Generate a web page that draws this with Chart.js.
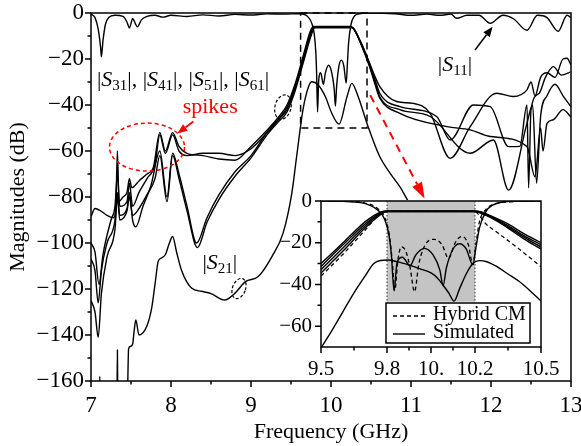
<!DOCTYPE html>
<html>
<head>
<meta charset="utf-8">
<script src="https://cdn.jsdelivr.net/npm/chart.js@4.4.1/dist/chart.umd.min.js"></script>
<style>
html, body { margin: 0; padding: 0; background: #fff; }
#wrap { position: relative; width: 581px; height: 446px; }
#main { position: absolute; left: 0; top: 0; }
#inset { position: absolute; left: 258px; top: 190px; }
</style>
</head>
<body>
<div id="wrap">
	<canvas id="main" width="581" height="446"></canvas>
	<canvas id="inset" width="302" height="195"></canvas>
</div>
<script>
// ---------- main plot data (frequency in GHz, magnitude in dB) ----------
var s11F = [7.0,7.05,7.09,7.12,7.13,7.15,7.18,7.22,7.3,7.4,7.45,7.48,7.52,7.58,7.63,7.7,7.8,7.9,8.0,8.2,8.4,8.6,8.8,9.0,9.2,9.4,9.6,9.68,9.72,9.76,9.79,9.81,9.82,9.832,9.845,9.87,9.905,9.93,9.97,10.01,10.04,10.055,10.07,10.1,10.13,10.16,10.19,10.205,10.22,10.25,10.28,10.32,10.5,10.8,11.0,11.2,11.36,11.5,11.57,11.7,11.85,11.99,12.15,12.28,12.45,12.58,12.7,12.84,12.95,13.0];
var s11Db = [-0.5,-2,-7,-15,-19,-12,-5,-2,-1,-1.5,-4,-6.5,-2.5,-6,-3,-1.5,-1,-1.8,-1,-1.5,-0.8,-1.3,-0.6,-0.9,-0.4,-0.5,-0.3,-0.8,-2,-4.5,-9,-17,-26,-43,-30,-26,-31,-26,-22.7,-26,-33,-40.5,-32,-23,-20.5,-23,-30.5,-22,-13,-5,-2,-0.6,0,-0.3,-1,-0.5,-1,-0.5,-2.3,-1,-1,-4.5,-1,-2.5,-7.5,-1,-2,-8,-1,-2];

var s21F = [7.105,7.11,7.115,7.2,7.325,7.33,7.335,7.4,7.455,7.47,7.49,7.52,7.54,7.56,7.6,7.7,7.76,7.8,7.84,7.88,7.93,7.98,8.02,8.07,8.13,8.26,8.38,8.5,8.67,8.8,8.93,9.09,9.26,9.4,9.51,9.57,9.65,9.72,9.76,9.84,9.93,10.01,10.1,10.2,10.26,10.34,10.45,10.61,10.74,10.86,11.0,11.3];
var s21Db = [-170,-158,-170,null,-170,-146.5,-170,null,-170,-146,-145,-144,-138,-133.5,-140,-136,-128,-118,-108,-106.5,-105,-100,-97.2,-104,-111.7,-119.7,-121,-122,-124.8,-121.8,-116.8,-114.6,-106,-95.8,-78.4,-62.5,-42,-32,-29.9,-31.3,-36.4,-43.6,-48.3,-36.4,-30.6,-36.4,-48,-62.5,-69.7,-75.5,-84,-100];

var s31F = [7.0,7.05,7.12,7.2,7.28,7.31,7.33,7.35,7.4,7.45,7.48,7.51,7.6,7.7,7.78,7.86,7.93,8.02,8.1,8.2,8.4,8.6,8.8,9.0,9.2,9.35,9.45,9.55,9.65,9.74,9.78,10.24,10.35,10.45,10.53,10.61,10.82,11.03,11.24,11.49,11.74,12.07,12.28,12.45,12.5,12.55,12.62,12.7,12.8,12.9,12.95,13.0];
var s31Db = [-88.5,-85,-86,-88,-89,-85,-60,-82,-80,-78,-72,-76,-73,-70,-67,-52,-60,-52,-58,-61,-62,-63.5,-64,-58,-51,-45,-40,-31,-19,-8,-5.8,-5.8,-11,-19,-26,-32,-38.5,-39.3,-43.6,-63.2,-49.4,-34.9,-36.3,-33.4,-30,-36,-28,-26,-28,-20,-19.7,-22.6];

var s41F = [7.0,7.05,7.1,7.15,7.25,7.3,7.33,7.36,7.45,7.48,7.52,7.6,7.7,7.8,7.86,7.93,8.02,8.1,8.2,8.4,8.6,8.8,9.0,9.2,9.35,9.45,9.55,9.65,9.745,9.785,10.25,10.36,10.46,10.54,10.61,10.86,11.32,11.49,11.78,11.99,12.22,12.36,12.45,12.47,12.5,12.6,12.68,12.78,12.88,13.0];
var s41Db = [-100,-104,-118,-105,-90,-84,-70,-84,-82,-74,-84,-78,-72,-66,-53,-61,-53,-60,-62,-61,-61,-62,-59,-52,-46,-41,-32,-20,-8.5,-6,-6,-12,-20,-28,-34.9,-40.7,-45,-55.2,-40,-40.7,-58.1,-58,-40,-76,-42,-35,-28,-23.3,-27,-25.6];

var s51F = [7.0,7.05,7.09,7.13,7.2,7.3,7.33,7.36,7.45,7.48,7.52,7.56,7.65,7.75,7.86,7.95,8.02,8.1,8.2,8.32,8.45,8.6,8.8,9.0,9.2,9.35,9.45,9.55,9.65,9.75,9.79,10.26,10.37,10.47,10.55,10.61,10.86,11.24,11.74,12.03,12.22,12.45,12.52,12.57,12.62,12.7,12.8,12.9,13.0];
var s51Db = [-107,-112,-126,-112,-100,-90,-78,-88,-85,-78,-90,-93,-84,-75,-60,-80,-61,-70,-84,-100,-89,-79,-69,-62,-52,-46,-42,-33,-21,-9,-6.2,-6.2,-13,-22,-30,-36.4,-42,-45,-61,-55.2,-77,-47.9,-40,-74,-45,-36,-31,-36,-40.8];

var s61F = [7.0,7.05,7.09,7.13,7.2,7.3,7.33,7.36,7.45,7.48,7.52,7.6,7.7,7.8,7.86,7.95,8.02,8.1,8.2,8.33,8.45,8.6,8.8,9.0,9.2,9.35,9.45,9.55,9.65,9.755,9.795,10.27,10.38,10.48,10.55,10.61,10.86,11.45,11.74,11.99,12.45,12.55,12.62,12.65,12.7,12.78,12.9,13.0];
var s61Db = [-125,-130,-141,-122,-106,-94,-80,-90,-86,-80,-88,-85,-79,-72,-62,-82,-62,-72,-86,-102,-91,-81,-71,-63,-53,-47,-43,-34,-22,-9.5,-6.4,-6.4,-14,-23,-31,-37,-43.6,-49.4,-50.8,-53.7,-58.1,-71.2,-50,-60,-48,-46.4,-42,-45.2];

var mainXTicks = [7, 8, 9, 10, 11, 12, 13];
var mainXMinor = [7.5, 8.5, 9.5, 10.5, 11.5, 12.5];
var mainYTicks = [0, -20, -40, -60, -80, -100, -120, -140, -160];
var mainYMinor = [-10, -30, -50, -70, -90, -110, -130, -150];

// ---------- inset data ----------
var inS11SimF = [9.5,9.6,9.68,9.72,9.76,9.79,9.81,9.82,9.832,9.845,9.87,9.905,9.93,9.97,10.01,10.04,10.055,10.07,10.1,10.13,10.16,10.19,10.205,10.22,10.25,10.28,10.32,10.4,10.5];
var inS11SimDb = [0,-0.2,-0.8,-2,-4.5,-9,-17,-26,-43,-30,-27,-31,-26,-22.7,-26,-33,-40.5,-32,-23,-20.5,-23,-30.5,-22,-13,-5,-2,-0.6,-0.1,0];
var inS11CmF = [9.5,9.65,9.7,9.75,9.79,9.81,9.825,9.835,9.85,9.865,9.885,9.905,9.925,9.945,9.98,10.015,10.05,10.08,10.11,10.14,10.17,10.19,10.205,10.22,10.25,10.29,10.35,10.5];
var inS11CmDb = [0,-0.3,-1,-3,-8,-16,-30,-43,-28,-22,-24,-32,-43.5,-30,-20,-18.4,-21,-27.5,-20,-17,-21,-30.5,-20,-10,-4,-1.5,-0.4,0];

var inS31SimF = [9.5,9.6,9.7,9.74,9.77,9.8,10.2,10.23,10.27,10.35,10.42,10.5];
var inS31SimDb = [-30,-20,-10,-7,-5.3,-4.8,-4.8,-5.3,-7,-11,-15.5,-20];
var inS41SimF = [9.5,9.6,9.7,9.745,9.775,9.8,10.2,10.23,10.27,10.35,10.42,10.5];
var inS41SimDb = [-31.5,-21,-11,-7.3,-5.4,-4.9,-4.9,-5.4,-7.3,-11.8,-16.5,-21];
var inS51SimF = [9.5,9.6,9.7,9.75,9.78,9.8,10.2,10.225,10.27,10.35,10.42,10.5];
var inS51SimDb = [-33,-22.5,-12,-7.5,-5.5,-5,-5,-5.5,-7.6,-12.4,-17.2,-22];
var inS61SimF = [9.5,9.6,9.7,9.755,9.785,9.805,10.195,10.22,10.27,10.35,10.42,10.5];
var inS61SimDb = [-34.5,-24,-13,-7.8,-5.6,-5.1,-5.1,-5.6,-7.9,-13,-18,-23];
var inS31CmF = [9.5,9.6,9.7,9.75,9.78,9.8,10.2,10.22,10.25,10.3,10.4,10.5];
var inS31CmDb = [-36,-25.5,-14,-8,-5.5,-5,-5,-7,-11,-15,-23,-31.5];

var inS21SimF = [9.5,9.55,9.6,9.65,9.7,9.74,9.77,9.8,9.85,9.9,9.95,10.0,10.03,10.056,10.08,10.105,10.13,10.16,10.19,10.22,10.25,10.3,10.35,10.4,10.45,10.5];
var inS21SimDb = [-70.5,-62,-53,-44,-36,-30,-28.5,-28.3,-29.2,-30.7,-32.5,-34.5,-37,-40.5,-44,-48,-42,-35,-30,-28.6,-29,-31.5,-35,-38.5,-43,-48];

var insetXTicks = [9.5, 9.8, 10, 10.2, 10.5];
var insetXTickLabels = ['9.5', '9.8', '10.', '10.2', '10.5'];
var insetXMinor = [9.65, 9.9, 10.1, 10.35];
var insetYTicks = [0, -20, -40, -60];
var insetYMinor = [-10, -30, -50];
var passBand = [9.8, 10.2];      // shaded band of the inset
var passBandFloor = -48.3;

var SERIF = "'Liberation Serif', 'DejaVu Serif', serif";
Chart.defaults.font.family = SERIF;
Chart.defaults.color = '#000';

function toPoints(xs, ys) {
	return xs.map(function (x, i) { return {x: x, y: ys[i]}; });
}

function curve(xs, ys, dash, width) {
	return {
		data: toPoints(xs, ys),
		borderColor: '#000',
		borderWidth: width || 1.4,
		borderDash: dash || [],
		pointRadius: 0,
		fill: false,
		spanGaps: false,
		cubicInterpolationMode: 'monotone'
	};
}

function serifFont(size) {
	return {family: SERIF, size: size};
}

// tick label with a real minus sign
function minusLabel(v) {
	return String(v).replace('-', '\u2212');
}

// keep the plot box exactly where the layout padding puts it
function noOverhang(s) {
	s.paddingLeft = 0; s.paddingRight = 0; s.paddingTop = 0; s.paddingBottom = 0;
}

// Frame + outward tick marks (major long, minor short)
var frameTicks = {
	id: 'frameTicks',
	afterDraw: function (chart, args, o) {
		var ctx = chart.ctx, a = chart.chartArea;
		var xs = chart.scales.x, ys = chart.scales.y;
		ctx.save();
		ctx.strokeStyle = '#000';
		ctx.lineWidth = 1.5;
		ctx.strokeRect(a.left, a.top, a.right - a.left, a.bottom - a.top);
		ctx.beginPath();
		o.xMajor.forEach(function (v) { var p = xs.getPixelForValue(v); ctx.moveTo(p, a.bottom); ctx.lineTo(p, a.bottom + o.major); });
		o.xMinor.forEach(function (v) { var p = xs.getPixelForValue(v); ctx.moveTo(p, a.bottom); ctx.lineTo(p, a.bottom + o.minor); });
		o.yMajor.forEach(function (v) { var p = ys.getPixelForValue(v); ctx.moveTo(a.left, p); ctx.lineTo(a.left - o.major, p); });
		o.yMinor.forEach(function (v) { var p = ys.getPixelForValue(v); ctx.moveTo(a.left, p); ctx.lineTo(a.left - o.minor, p); });
		ctx.stroke();
		ctx.restore();
	}
};

function arrow(ctx, x1, y1, x2, y2, color, dash, head, headW) {
	var ang = Math.atan2(y2 - y1, x2 - x1);
	var bx = x2 - head * Math.cos(ang), by = y2 - head * Math.sin(ang);
	ctx.save();
	ctx.strokeStyle = color; ctx.fillStyle = color;
	ctx.setLineDash(dash);
	ctx.beginPath(); ctx.moveTo(x1, y1); ctx.lineTo(bx, by); ctx.stroke();
	ctx.setLineDash([]);
	ctx.beginPath();
	ctx.moveTo(x2, y2);
	ctx.lineTo(bx + headW / 2 * Math.sin(ang), by - headW / 2 * Math.cos(ang));
	ctx.lineTo(bx - headW / 2 * Math.sin(ang), by + headW / 2 * Math.cos(ang));
	ctx.closePath(); ctx.fill();
	ctx.restore();
}

// |S_ab| style label, centred at (cx, cy)
function sLabel(ctx, cx, cy, subs) {
	var big = '22px ' + SERIF, ital = 'italic 22px ' + SERIF, small = '15px ' + SERIF;
	var pieces = [];
	subs.forEach(function (s, i) {
		pieces.push({t: '|', f: big, dy: 0});
		pieces.push({t: 'S', f: ital, dy: 0});
		pieces.push({t: s, f: small, dy: 6});
		pieces.push({t: '|', f: big, dy: 0});
		if (i < subs.length - 1) { pieces.push({t: ', ', f: big, dy: 0}); }
	});
	var w = 0;
	pieces.forEach(function (p) { ctx.font = p.f; p.w = ctx.measureText(p.t).width; w += p.w; });
	var x = cx - w / 2;
	ctx.textAlign = 'left'; ctx.textBaseline = 'middle';
	pieces.forEach(function (p) { ctx.font = p.f; ctx.fillText(p.t, x, cy + p.dy); x += p.w; });
}

function dashedEllipse(ctx, cx, cy, rx, ry, rot, color, dash, lw) {
	ctx.save();
	ctx.strokeStyle = color; ctx.lineWidth = lw; ctx.setLineDash(dash);
	ctx.beginPath(); ctx.ellipse(cx, cy, rx, ry, rot, 0, Math.PI * 2); ctx.stroke();
	ctx.restore();
}

var mainNotes = {
	id: 'mainNotes',
	afterDatasetsDraw: function (chart) {
		var ctx = chart.ctx, X = chart.scales.x, Y = chart.scales.y;
		function px(v) { return X.getPixelForValue(v); }
		function py(v) { return Y.getPixelForValue(v); }
		ctx.save();
		// dashed zoom box round the passband
		ctx.strokeStyle = '#000'; ctx.lineWidth = 1.5; ctx.setLineDash([7, 5]);
		ctx.strokeRect(px(9.62), py(0), px(10.45) - px(9.62), py(-50) - py(0));
		ctx.setLineDash([]);
		// red dashed arrow to the inset
		ctx.lineWidth = 2;
		arrow(ctx, px(10.49), py(-35.7), px(11.17), py(-80.6), '#ff0000', [8, 6], 16, 11);
		// red ellipse + "spikes"
		dashedEllipse(ctx, px(7.7), py(-58.3), 37.5, 24, 0, '#ff0000', [4, 3], 1.5);
		ctx.lineWidth = 1.8;
		arrow(ctx, px(8.28), py(-47.2), px(8.08), py(-52.4), '#ff0000', [], 10, 8);
		ctx.fillStyle = '#ff0000';
		ctx.font = '22px ' + SERIF; ctx.textAlign = 'center'; ctx.textBaseline = 'middle';
		ctx.fillText('spikes', px(8.49), py(-40.9));
		// small dashed markers
		dashedEllipse(ctx, px(9.4), py(-40.9), 8, 12.5, 0.25, '#000', [3, 2], 1.2);
		dashedEllipse(ctx, px(8.85), py(-119.8), 6.5, 10.5, 0.35, '#000', [3, 2], 1.2);
		// S11 arrow
		ctx.lineWidth = 1.5;
		arrow(ctx, px(11.8), py(-16.1), px(12.02), py(-6), '#000', [], 10, 8);
		// labels
		ctx.fillStyle = '#000';
		sLabel(ctx, px(8.15), py(-29.3), ['31', '41', '51', '61']);
		sLabel(ctx, px(11.55), py(-22.6), ['11']);
		sLabel(ctx, px(8.61), py(-108.7), ['21']);
		ctx.restore();
	}
};

var mainChart = new Chart(document.getElementById('main'), {
	type: 'line',
	data: {
		datasets: [
			curve(s11F, s11Db), curve(s21F, s21Db),
			curve(s31F, s31Db), curve(s41F, s41Db), curve(s51F, s51Db), curve(s61F, s61Db)
		]
	},
	options: {
		responsive: false, animation: false, devicePixelRatio: 1,
		layout: {padding: {left: 0, top: 13, right: 10, bottom: 0}},
		plugins: {
			legend: {display: false}, tooltip: {enabled: false},
			frameTicks: {xMajor: mainXTicks, xMinor: mainXMinor, yMajor: mainYTicks, yMinor: mainYMinor, major: 6, minor: 3.5}
		},
		scales: {
			x: {
				type: 'linear', min: 7, max: 13,
				afterBuildTicks: function (s) { s.ticks = mainXTicks.map(function (v) { return {value: v}; }); },
				afterFit: function (s) { s.height = 65; noOverhang(s); },
				grid: {display: false, drawTicks: false}, border: {display: false},
				ticks: {autoSkip: false, maxRotation: 0, padding: 11, color: '#000', font: serifFont(23)},
				title: {display: true, text: 'Frequency (GHz)', color: '#000', font: serifFont(22), padding: {top: 0, bottom: 1}}
			},
			y: {
				type: 'linear', min: -160, max: 0,
				afterBuildTicks: function (s) { s.ticks = mainYTicks.map(function (v) { return {value: v}; }); },
				afterFit: function (s) { s.width = 91; noOverhang(s); },
				grid: {display: false, drawTicks: false}, border: {display: false},
				ticks: {autoSkip: false, padding: 7, color: '#000', font: serifFont(23), callback: minusLabel},
				title: {display: true, text: 'Magnitudes (dB)', color: '#000', font: serifFont(22), padding: {top: 5, bottom: 0}}
			}
		}
	},
	plugins: [mainNotes, frameTicks]
});

var insetDecor = {
	id: 'insetDecor',
	beforeDraw: function (chart) {
		var ctx = chart.ctx, a = chart.chartArea;
		ctx.save(); ctx.fillStyle = '#fff';
		ctx.fillRect(a.left - 1, a.top - 1, a.right - a.left + 2, a.bottom - a.top + 2);
		ctx.restore();
	},
	beforeDatasetsDraw: function (chart) {
		var ctx = chart.ctx, X = chart.scales.x, Y = chart.scales.y;
		var x1 = X.getPixelForValue(passBand[0]), x2 = X.getPixelForValue(passBand[1]);
		var y1 = Y.getPixelForValue(0), y2 = Y.getPixelForValue(passBandFloor);
		ctx.save();
		ctx.fillStyle = '#c4c4c4';
		ctx.fillRect(x1, y1, x2 - x1, y2 - y1);
		ctx.strokeStyle = '#333'; ctx.lineWidth = 1; ctx.setLineDash([1.5, 2]);
		ctx.beginPath(); ctx.moveTo(x1, y1); ctx.lineTo(x1, y2); ctx.moveTo(x2, y1); ctx.lineTo(x2, y2); ctx.stroke();
		ctx.restore();
	},
	afterDraw: function (chart) {
		var ctx = chart.ctx, a = chart.chartArea;
		var w = 144, h = 40, bx = a.right - 11 - w, by = a.bottom - 4 - h;
		ctx.save();
		ctx.fillStyle = '#fff'; ctx.fillRect(bx, by, w, h);
		ctx.strokeStyle = '#000'; ctx.lineWidth = 1.5; ctx.strokeRect(bx, by, w, h);
		ctx.lineWidth = 1.4;
		ctx.setLineDash([4, 3]);
		ctx.beginPath(); ctx.moveTo(bx + 7, by + 13); ctx.lineTo(bx + 39, by + 13); ctx.stroke();
		ctx.setLineDash([]);
		ctx.beginPath(); ctx.moveTo(bx + 7, by + 31); ctx.lineTo(bx + 39, by + 31); ctx.stroke();
		ctx.fillStyle = '#000'; ctx.font = '20px ' + SERIF; ctx.textAlign = 'left'; ctx.textBaseline = 'middle';
		ctx.fillText('Hybrid CM', bx + 47, by + 12);
		ctx.fillText('Simulated', bx + 47, by + 30);
		ctx.restore();
	}
};

var insetChart = new Chart(document.getElementById('inset'), {
	type: 'line',
	data: {
		datasets: [
			curve(inS21SimF, inS21SimDb),
			curve(inS31SimF, inS31SimDb), curve(inS41SimF, inS41SimDb),
			curve(inS51SimF, inS51SimDb), curve(inS61SimF, inS61SimDb),
			curve(inS31CmF, inS31CmDb, [4, 3], 1.3),
			curve(inS11SimF, inS11SimDb),
			curve(inS11CmF, inS11CmDb, [4, 3], 1.3)
		]
	},
	options: {
		responsive: false, animation: false, devicePixelRatio: 1,
		layout: {padding: {left: 0, top: 11, right: 19, bottom: 0}},
		plugins: {
			legend: {display: false}, tooltip: {enabled: false},
			frameTicks: {xMajor: insetXTicks, xMinor: insetXMinor, yMajor: insetYTicks, yMinor: insetYMinor, major: 6, minor: 3.5}
		},
		scales: {
			x: {
				type: 'linear', min: 9.5, max: 10.5,
				afterBuildTicks: function (s) { s.ticks = insetXTicks.map(function (v) { return {value: v}; }); },
				afterFit: function (s) { s.height = 38; noOverhang(s); },
				grid: {display: false, drawTicks: false}, border: {display: false},
				ticks: {
					autoSkip: false, maxRotation: 0, padding: 10, color: '#000', font: serifFont(21),
					callback: function (v) { var i = insetXTicks.indexOf(v); return i < 0 ? '' : insetXTickLabels[i]; }
				}
			},
			y: {
				type: 'linear', min: -70, max: 0,
				afterBuildTicks: function (s) { s.ticks = insetYTicks.map(function (v) { return {value: v}; }); },
				afterFit: function (s) { s.width = 63; noOverhang(s); },
				grid: {display: false, drawTicks: false}, border: {display: false},
				ticks: {autoSkip: false, padding: 9, color: '#000', font: serifFont(21), callback: minusLabel}
			}
		}
	},
	plugins: [insetDecor, frameTicks]
});
</script>
</body>
</html>
